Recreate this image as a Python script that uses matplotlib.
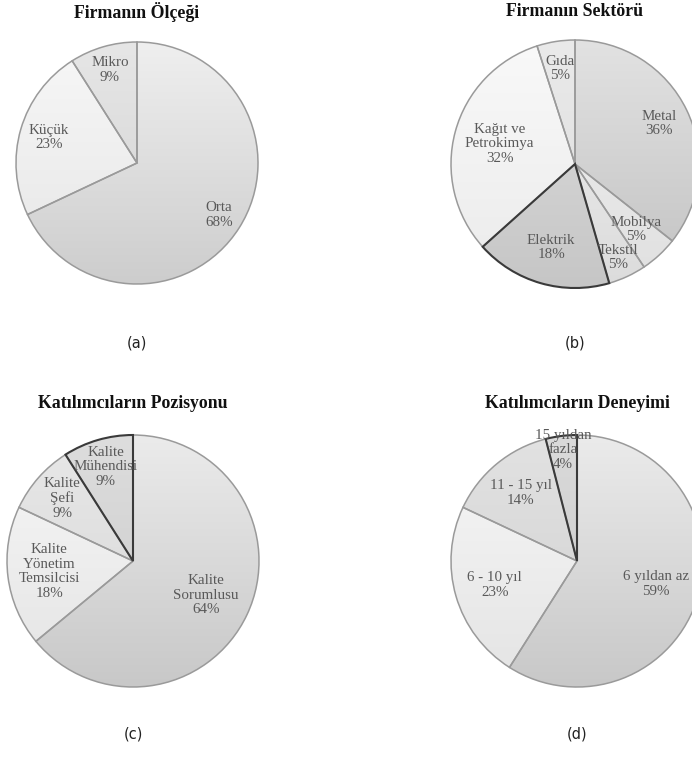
import numpy as np
import matplotlib
matplotlib.use("Agg")
import matplotlib.pyplot as plt
from matplotlib.colors import LinearSegmentedColormap

W, H = 692, 758

# --- data ---
olcek_lbl = ["Orta", "Küçük", "Mikro"]
olcek_val = [68, 23, 9]

sektor_lbl = ["Metal", "Mobilya", "Tekstil", "Elektrik", "Kağıt ve\nPetrokimya", "Gıda"]
sektor_val = [36, 5, 5, 18, 32, 5]

pozisyon_lbl = ["Kalite\nSorumlusu", "Kalite\nYönetim\nTemsilcisi", "Kalite\nŞefi", "Kalite\nMühendisi"]
pozisyon_val = [64, 18, 9, 9]

deneyim_lbl = ["6 yıldan az", "6 - 10 yıl", "11 - 15 yıl", "15 yıldan\nfazla"]
deneyim_val = [59, 23, 14, 4]

# --- styling (top colour, bottom colour) per slice ---
olcek_col = [("#efefef", "#cdcdcd"), ("#f7f7f7", "#e6e6e6"), ("#e6e6e6", "#d2d2d2")]
sektor_col = [("#e2e2e2", "#c2c2c2"), ("#f0f0f0", "#e0e0e0"), ("#efefef", "#dcdcdc"),
              ("#dedede", "#c6c6c6"), ("#f9f9f9", "#ebebeb"), ("#eaeaea", "#dcdcdc")]
pozisyon_col = [("#ebebeb", "#c8c8c8"), ("#f7f7f7", "#e4e4e4"), ("#e8e8e8", "#d6d6d6"),
                ("#dddddd", "#cacaca")]
deneyim_col = [("#ebebeb", "#c8c8c8"), ("#f7f7f7", "#e4e4e4"), ("#e2e2e2", "#d0d0d0"),
               ("#dadada", "#c8c8c8")]

fig = plt.figure(figsize=(W / 100, H / 100), dpi=100)
fig.patch.set_facecolor("white")


def draw_pie(cx, cy, R, vals, labels, cols, lbl_r, dark, title, title_y, tag):
    pad = 1.04
    ax = fig.add_axes([(cx - R * pad) / W, (H - (cy + R * pad)) / H,
                       2 * R * pad / W, 2 * R * pad / H])
    wedges, _ = ax.pie(vals, startangle=90, counterclock=False, radius=1,
                       wedgeprops=dict(facecolor="none", edgecolor="#9a9a9a", linewidth=1.1))
    yy = np.linspace(1, 0, 256).reshape(-1, 1)
    for i, w in enumerate(wedges):
        cmap = LinearSegmentedColormap.from_list("g%d" % i, [cols[i][1], cols[i][0]])
        im = ax.imshow(yy, cmap=cmap, extent=(-1, 1, -1, 1), aspect="auto",
                       interpolation="bilinear", zorder=1, vmin=0, vmax=1)
        im.set_clip_path(w)
        w.set_zorder(3)
        if i in dark:
            w.set_edgecolor("#3a3a3a")
            w.set_linewidth(1.5)
            w.set_zorder(4)
        th = np.deg2rad((w.theta1 + w.theta2) / 2)
        s = "%s\n%d%%" % (labels[i], vals[i])
        ax.text(lbl_r[i] * np.cos(th), lbl_r[i] * np.sin(th), s, ha="center", va="center",
                fontsize=10.8, family="Liberation Serif", color="#595959",
                linespacing=1.15, zorder=5)
    ax.set_xlim(-pad, pad)
    ax.set_ylim(-pad, pad)
    ax.set_aspect("auto")
    ax.axis("off")
    fig.text(cx / W, (H - title_y) / H, title, ha="center", va="center",
             fontsize=12.8, fontweight="bold", family="Liberation Serif", color="#111111")
    fig.text(cx / W, (H - (title_y + 331)) / H, tag, ha="center", va="center",
             fontsize=10.5, family="DejaVu Sans", color="#222222")


draw_pie(137, 163, 121, olcek_val, olcek_lbl, olcek_col,
         [0.8, 0.76, 0.8], [], "Firmanın Ölçeği", 12, "(a)")
draw_pie(575, 164, 124, sektor_val, sektor_lbl, sektor_col,
         [0.75, 0.72, 0.83, 0.7, 0.63, 0.78], [3], "Firmanın Sektörü", 12, "(b)")
draw_pie(133, 561, 126, pozisyon_val, pozisyon_lbl, pozisyon_col,
         [0.64, 0.67, 0.75, 0.78], [3], "Katılımcıların Pozisyonu", 403, "(c)")
draw_pie(577, 561, 126, deneyim_val, deneyim_lbl, deneyim_col,
         [0.65, 0.68, 0.7, 0.89], [3], "Katılımcıların Deneyimi", 403, "(d)")

fig.savefig("out.png", dpi=100, facecolor="white")
